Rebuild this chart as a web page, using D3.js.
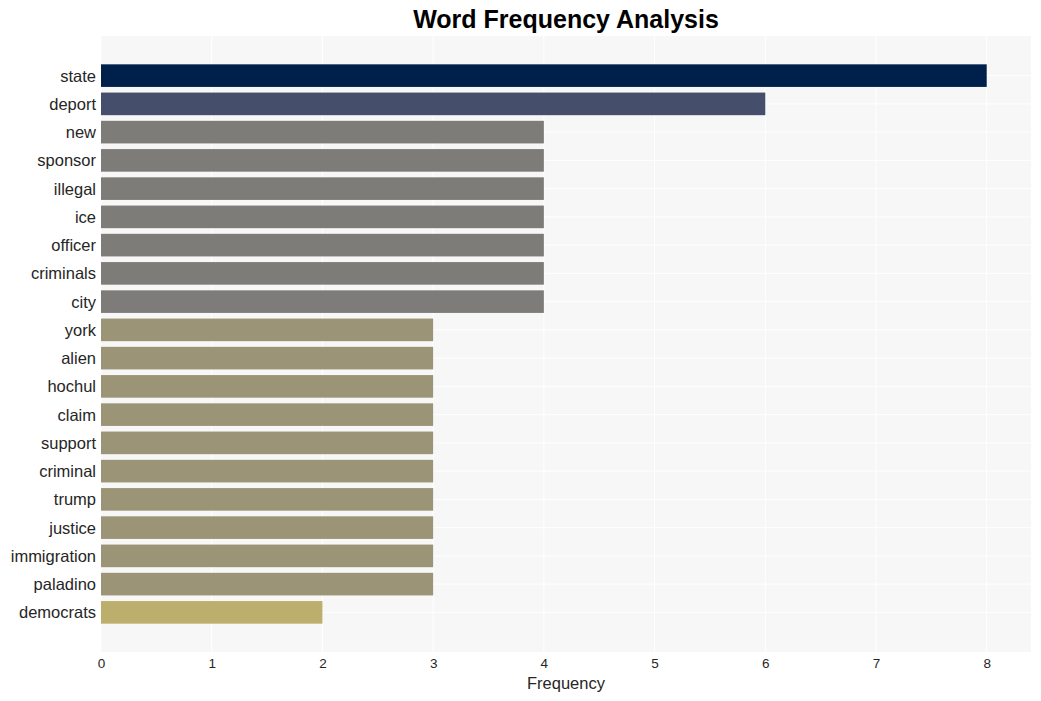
<!DOCTYPE html>
<html>
<head>
<meta charset="utf-8">
<script src="https://cdn.jsdelivr.net/npm/d3@7"></script>
<style>
body{margin:0;background:#fff;}
svg{display:block;font-family:"Liberation Sans",Arial,sans-serif;}
</style>
</head>
<body>
<svg id="chart" width="1041" height="701"></svg>
<script>
const words = ["state","deport","new","sponsor","illegal","ice","officer","criminals","city","york","alien","hochul","claim","support","criminal","trump","justice","immigration","paladino","democrats"];
const counts = [8,6,4,4,4,4,4,4,4,3,3,3,3,3,3,3,3,3,3,2];
const barColors = ["#00204c","#454f6b","#7e7c78","#7e7c78","#7e7c78","#7e7c78","#7e7c78","#7e7c78","#7e7c78","#9b9476","#9b9476","#9b9476","#9b9476","#9b9476","#9b9476","#9b9476","#9b9476","#9b9476","#9b9476","#bcae6c"];
const xTicks = [0,1,2,3,4,5,6,7,8];

const svg = d3.select("#chart");
const L = 101, R = 1031, T = 36, B = 652;

const x = d3.scaleLinear().domain([0, 8.4]).range([L, R]);
const y = d3.scaleBand().domain(words).range([T + 25.5, B - 25.5]).paddingInner(0.2).paddingOuter(0.1);

svg.append("rect").attr("x", L).attr("y", T).attr("width", R - L).attr("height", B - T).attr("fill", "#f7f7f7");

svg.append("g").selectAll("line").data(xTicks).join("line")
  .attr("x1", d => x(d)).attr("x2", d => x(d)).attr("y1", T).attr("y2", B)
  .attr("stroke", "#ffffff").attr("stroke-width", 1);
svg.append("g").selectAll("line").data(words).join("line")
  .attr("x1", L).attr("x2", R)
  .attr("y1", d => y(d) + y.bandwidth() / 2).attr("y2", d => y(d) + y.bandwidth() / 2)
  .attr("stroke", "#ffffff").attr("stroke-width", 1);

svg.append("g").selectAll("rect").data(words).join("rect")
  .attr("x", x(0)).attr("y", d => y(d))
  .attr("width", (d, i) => x(counts[i]) - x(0))
  .attr("height", y.bandwidth())
  .attr("fill", (d, i) => barColors[i]);

const yAxis = d3.axisLeft(y).tickSize(0).tickPadding(5);
const gy = svg.append("g").attr("transform", `translate(${L},0)`).call(yAxis);
gy.select(".domain").remove();
gy.selectAll("text").attr("font-size", 16.5).attr("fill", "#262626").attr("dy", "0.36em").attr("font-family", "'Liberation Sans',Arial,sans-serif");

const xAxis = d3.axisBottom(x).tickValues(xTicks).tickSize(0).tickPadding(6).tickFormat(d3.format("d"));
const gx = svg.append("g").attr("transform", `translate(0,${B})`).call(xAxis);
gx.select(".domain").remove();
gx.selectAll("text").attr("font-size", 13.5).attr("fill", "#262626").attr("font-family", "'Liberation Sans',Arial,sans-serif");

svg.append("text").attr("x", (L + R) / 2).attr("y", 689).attr("text-anchor", "middle")
  .attr("font-size", 16.5).attr("fill", "#262626").text("Frequency");

svg.append("text").attr("x", 566).attr("y", 28).attr("text-anchor", "middle")
  .attr("font-size", 25).attr("font-weight", "bold").attr("fill", "#000").text("Word Frequency Analysis");
</script>
</body>
</html>
